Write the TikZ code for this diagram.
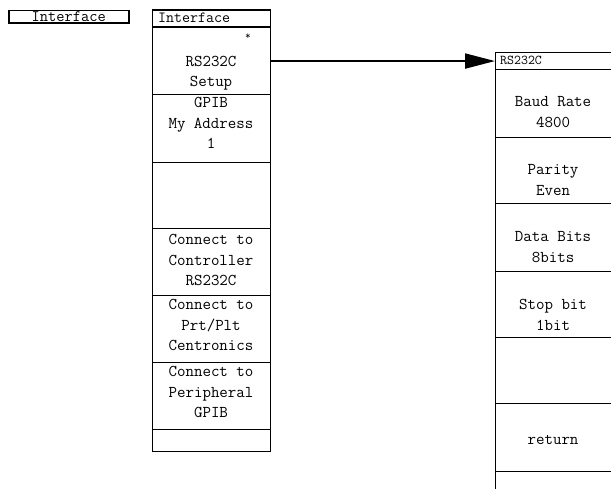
\documentclass[tikz,border=0pt]{standalone}
\usetikzlibrary{arrows.meta}
\begin{document}
\begin{tikzpicture}[x=1pt,y=-1pt,
  cell/.style={draw=black,line width=1.1pt,inner sep=0pt,anchor=north west},
  txt/.style={font=\ttfamily\fontsize{16.5}{20.5}\selectfont,align=center,inner sep=0pt},
  hdr/.style={font=\ttfamily\fontsize{15.5}{17}\selectfont,inner sep=0pt}]
\useasboundingbox (0,0) rectangle (611,489);
\clip (0,0) rectangle (611,489);
% left soft key
\node[cell,line width=1.5pt,minimum width=120pt,minimum height=12.5pt] (lk) at (8,10) {};
\node[hdr,font=\ttfamily\fontsize{16}{17}\selectfont] (lkt) at ([yshift=0.5pt]lk.center) {Interface};
% middle column
\node[cell,minimum width=118pt,minimum height=17pt] (mh) at (152,9.5) {};
\node[hdr,anchor=west] (mht) at (158,18) {Interface};
\node[cell,minimum width=118pt,minimum height=67.5pt] (m1) at (152,26.5) {};
\node[cell,minimum width=118pt,minimum height=68pt] (m2) at (152,94) {};
\node[cell,minimum width=118pt,minimum height=66pt] (m3) at (152,162) {};
\node[cell,minimum width=118pt,minimum height=67pt] (m4) at (152,228) {};
\node[cell,minimum width=118pt,minimum height=67pt] (m5) at (152,295) {};
\node[cell,minimum width=118pt,minimum height=67pt] (m6) at (152,362) {};
\node[cell,minimum width=118pt,minimum height=22pt] (m7) at (152,429) {};
\node[txt,font=\ttfamily\fontsize{11}{12}\selectfont] (star) at (248,37) {*};
\node[txt] (m1t) at (211,73) {RS232C\\Setup};
\node[txt] (m2t) at (211,123) {GPIB\\My Address\\1};
\node[txt] (m4t) at (211,260) {Connect to\\Controller\\RS232C};
\node[txt] (m5t) at (211,325) {Connect to\\Prt/Plt\\Centronics};
\node[txt] (m6t) at (211,392) {Connect to\\Peripheral\\GPIB};
% right column
\node[cell,minimum width=120pt,minimum height=17pt] (rh) at (495,52) {};
\node[hdr,anchor=west,font=\ttfamily\fontsize{13.5}{15}\selectfont] (rht) at (500,60.5) {RS232C};
\node[cell,minimum width=120pt,minimum height=68pt] (r1) at (495,69) {};
\node[cell,minimum width=120pt,minimum height=66pt] (r2) at (495,137) {};
\node[cell,minimum width=120pt,minimum height=68pt] (r3) at (495,203) {};
\node[cell,minimum width=120pt,minimum height=66pt] (r4) at (495,271) {};
\node[cell,minimum width=120pt,minimum height=66pt] (r5) at (495,337) {};
\node[cell,minimum width=120pt,minimum height=68pt] (r6) at (495,403) {};
\node[cell,minimum width=120pt,minimum height=40pt] (r7) at (495,471) {};
\node[txt] (r1t) at (553,112) {Baud Rate\\4800};
\node[txt] (r2t) at (553,180) {Parity\\Even};
\node[txt] (r3t) at (553,247) {Data Bits\\8bits};
\node[txt] (r4t) at (553,315) {Stop bit\\1bit};
\node[txt] (r6t) at (553,440) {return};
% arrow
\draw[line width=2pt,-{Triangle[length=30pt,width=15pt]}] (m1.east |- rh.west) -- (rh.west);
\end{tikzpicture}
\end{document}
